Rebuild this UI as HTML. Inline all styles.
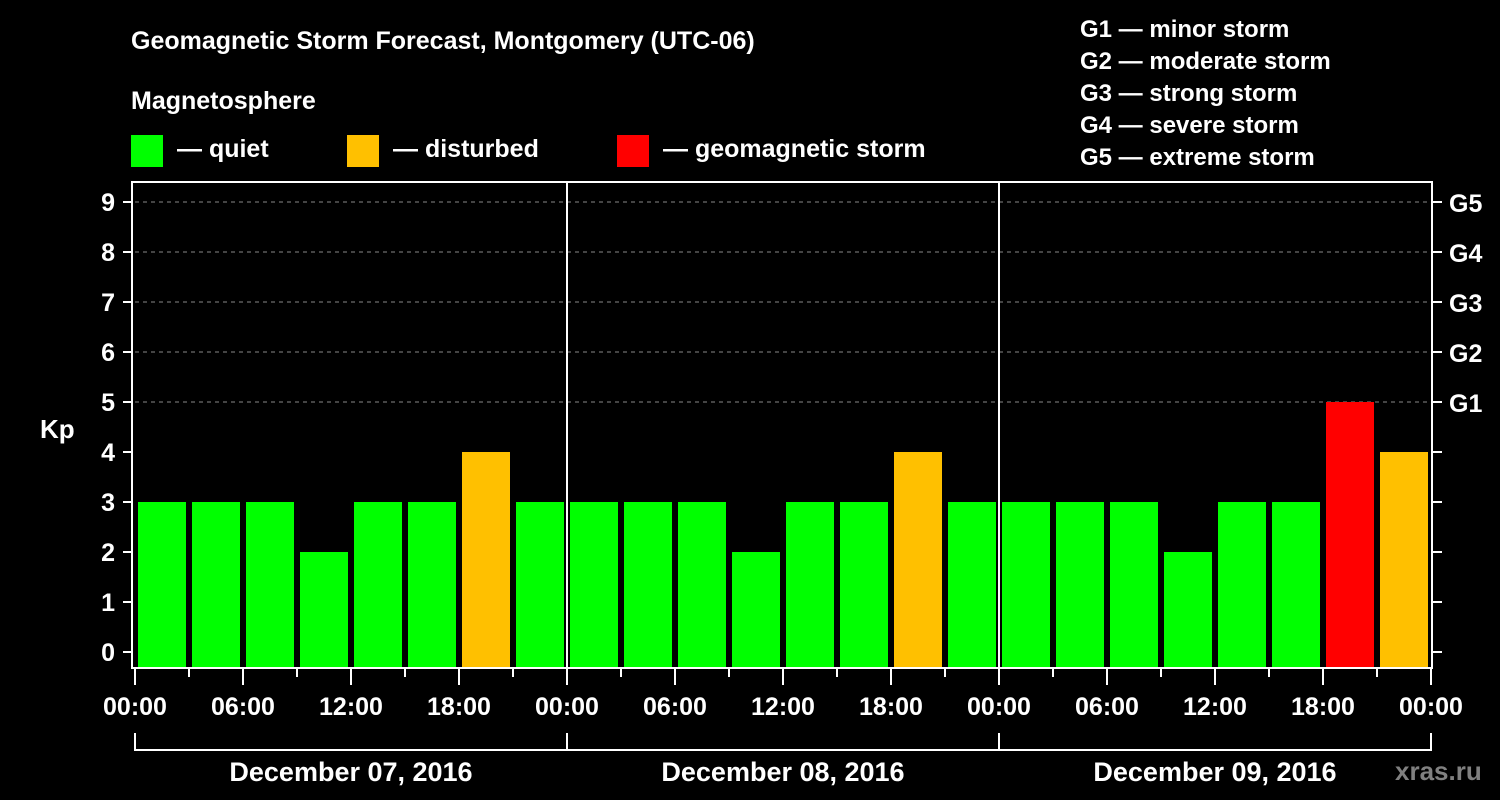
<!DOCTYPE html>
<html><head><meta charset="utf-8"><style>
body{margin:0;background:#000;}
svg{display:block;font-family:"Liberation Sans",sans-serif;font-weight:bold;}
</style></head><body>
<svg id="c" width="1500" height="800" viewBox="0 0 1500 800">
<rect width="1500" height="800" fill="#000"/>
<text x="131" y="49" fill="#fff" font-size="25">Geomagnetic Storm Forecast, Montgomery (UTC-06)</text>
<text x="131" y="109" fill="#fff" font-size="25">Magnetosphere</text>
<g><rect x="131" y="135" width="32" height="32" fill="#00ff00"/><text x="177" y="157" fill="#fff" font-size="25">— quiet</text></g>
<g><rect x="347" y="135" width="32" height="32" fill="#ffc000"/><text x="393" y="157" fill="#fff" font-size="25">— disturbed</text></g>
<g><rect x="617" y="135" width="32" height="32" fill="#ff0000"/><text x="663" y="157" fill="#fff" font-size="25">— geomagnetic storm</text></g>
<g fill="#fff" font-size="24">
<text x="1080" y="37">G1 — minor storm</text>
<text x="1080" y="69">G2 — moderate storm</text>
<text x="1080" y="101">G3 — strong storm</text>
<text x="1080" y="133">G4 — severe storm</text>
<text x="1080" y="165">G5 — extreme storm</text>
</g>
<text x="40" y="438" fill="#fff" font-size="26">Kp</text>
<text x="1395" y="780" fill="#808080" font-size="26">xras.ru</text>
<g id="plot"></g>
</svg>
<script>
const kpValues=[3,3,3,2,3,3,4,3, 3,3,3,2,3,3,4,3, 3,3,3,2,3,3,5,4];
const dayLabels=["December 07, 2016","December 08, 2016","December 09, 2016"];
const yTicks=[0,1,2,3,4,5,6,7,8,9];
const gLabels=["G1","G2","G3","G4","G5"];
const gLevels=[5,6,7,8,9];
const timeLabels=["00:00","06:00","12:00","18:00"];
const NS="http://www.w3.org/2000/svg";
const X0=135,X1=1431,TOP=182,BOT=668;
const slot=(X1-X0)/kpValues.length;
const x=i=>X0+i*slot;
const y=v=>652-v*50;
const g=document.getElementById('plot');
function mk(t,a,p){const e=document.createElementNS(NS,t);for(const k in a)e.setAttribute(k,a[k]);(p||g).appendChild(e);return e;}
function col(v){return v>=5?"#ff0000":v>=4?"#ffc000":"#00ff00";}
// grid
yTicks.forEach(v=>{
 if(v>=5){const l=mk('line',{x1:X0,x2:X1,y1:y(v),y2:y(v),stroke:"#888","stroke-dasharray":"4,4","stroke-width":1});
 
 }
 const t=mk('line',{x1:123,x2:131,y1:y(v),y2:y(v),stroke:"#fff","stroke-width":2});
 
 
 const r=mk('line',{x1:1433,x2:1442,y1:y(v),y2:y(v),stroke:"#fff","stroke-width":2});
 
 
 const tx=mk('text',{x:115,y:y(v)+9,fill:"#fff","font-size":25,"text-anchor":"end"});tx.textContent=v;
 
 
});
gLabels.forEach((s,i)=>{const t=mk('text',{x:1449,y:y(gLevels[i])+10,fill:"#fff","font-size":25});t.textContent=s;
 
 });
// bars
kpValues.forEach((v,i)=>{const b=mk('rect',{x:x(i)+3,y:y(v),width:slot-6,height:BOT-y(v),fill:col(v)});
 
 });
// frame
const f=mk('rect',{x:132,y:TOP,width:1300,height:BOT-TOP,fill:"none",stroke:"#fff","stroke-width":2});


for(let d=1;d<dayLabels.length;d++){const l=mk('line',{x1:x(d*8),x2:x(d*8),y1:TOP,y2:BOT,stroke:"#fff","stroke-width":2});
 
 }
// x ticks
for(let i=0;i<=kpValues.length;i++){
 const major=i%2===0;
 const t=mk('line',{x1:x(i),x2:x(i),y1:BOT,y2:major?685:677,stroke:"#fff","stroke-width":2});
 
 
 if(major){const tx=mk('text',{x:x(i),y:715,fill:"#fff","font-size":25,"text-anchor":"middle"});tx.textContent=timeLabels[(i/2)%4];
 
 }
}
// day brackets
const br=mk('line',{x1:X0,x2:X1,y1:750,y2:750,stroke:"#fff","stroke-width":2});


for(let d=0;d<=dayLabels.length;d++){const l=mk('line',{x1:x(d*8),x2:x(d*8),y1:733,y2:751,stroke:"#fff","stroke-width":2});
 
 }
dayLabels.forEach((s,d)=>{const t=mk('text',{x:(x(d*8)+x(d*8+8))/2,y:781,fill:"#fff","font-size":27,"text-anchor":"middle"});t.textContent=s;
 
 });
</script>
</body></html>
